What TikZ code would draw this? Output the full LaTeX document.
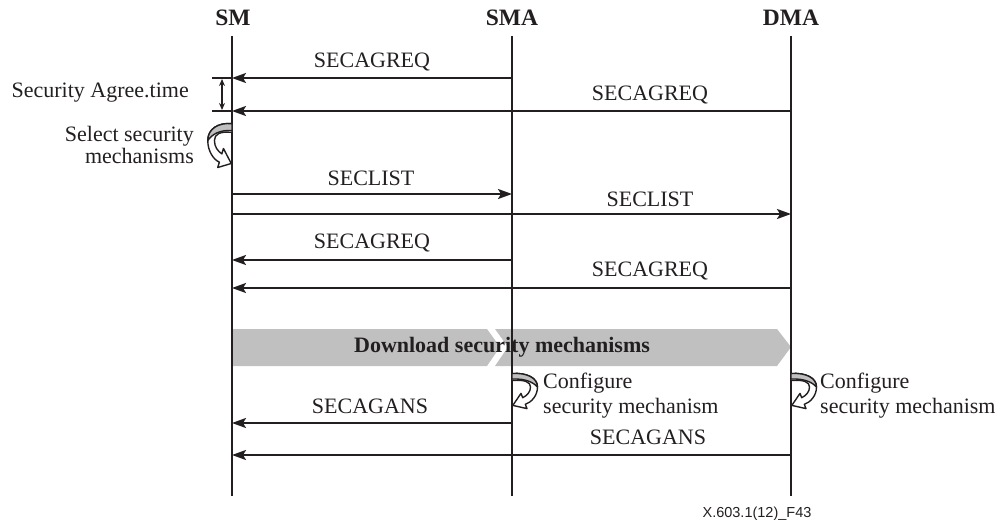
\documentclass[tikz,border=0pt]{standalone}
\usepackage{fontspec}
\setmainfont{Liberation Serif}
\newfontfamily\footfont{Liberation Sans}
\usetikzlibrary{arrows.meta}
\definecolor{bandgray}{RGB}{192,192,192}
\definecolor{ink}{RGB}{35,31,32}
\tikzset{
  lifeline/.style={draw=ink, line width=2pt},
  msg/.style={draw=ink, line width=2pt, -{Stealth[length=14pt,width=10pt,inset=3pt]}},
  lbl/.style={font=\fontsize{22}{24}\selectfont, text=ink, inner sep=0pt},
  head/.style={font=\fontsize{23.5}{24}\selectfont\bfseries, text=ink, inner sep=0pt},
  bandtext/.style={font=\fontsize{22}{24}\selectfont\bfseries, text=ink, inner sep=0pt},
  tick/.style={draw=ink, line width=1.5pt},
  chev/.style={fill=bandgray, draw=none},
  loopicon/.pic={
    \filldraw[fill=white, draw=ink, line width=1.4pt, line join=round]
      (0,0.5) .. controls (15,-0.5) and (25.5,5) .. (25.5,14)
      .. controls (25.5,23) and (19,29.5) .. (13.3,31.3)
      -- (15,35.6) -- (0.8,32.4) -- (9,20.4) -- (10.7,24.7)
      .. controls (15,22.5) and (18.5,19) .. (18.5,14)
      .. controls (18.5,9) and (13,6.5) .. (0,7.5) -- cycle;
    \filldraw[fill=bandgray, draw=ink, line width=1.4pt, line join=round]
      (0,0.5) .. controls (15,-0.5) and (25.5,5) .. (25.5,14)
      .. controls (21,9) and (13,5.5) .. (0,6) -- cycle;
  }
}
\begin{document}
\begin{tikzpicture}[x=1pt,y=-1pt]
\useasboundingbox (0,0) rectangle (1000,524);

% headers
\node[head] (SM)  at (233,18) {SM};
\node[head] (SMA) at (512,18) {SMA};
\node[head] (DMA) at (791,18) {DMA};

% lifeline end points
\coordinate (SMt) at (232,36);  \coordinate (SMb) at (232,496);
\coordinate (SMAt) at (512,36); \coordinate (SMAb) at (512,496);
\coordinate (DMAt) at (791,36); \coordinate (DMAb) at (791,496);

% banner
\fill[chev] (232,329) -- (487,329) -- (500,347) -- (487,366) -- (232,366) -- cycle;
\fill[chev] (495,329) -- (777,329) -- (791,347) -- (777,366) -- (495,366) -- (508,347) -- cycle;
\node[bandtext] (band) at (502,347) {Download security mechanisms};

\draw[lifeline] (SMt) -- (SMb);
\draw[lifeline] (SMAt) -- (SMAb);
\draw[lifeline] (DMAt) -- (DMAb);

% message end points
\foreach \n/\y in {1/78,2/111,3/194,4/214,5/260,6/288,7/423,8/455}{
  \coordinate (sm\n) at (232,\y);
  \coordinate (sma\n) at (512,\y);
  \coordinate (dma\n) at (791,\y);
}

\draw[msg] (sma1) -- (sm1);
\node[lbl] (l1) at (372,62) {SECAGREQ};
\draw[msg] (dma2) -- (sm2);
\node[lbl] (l2) at (650,95) {SECAGREQ};
\draw[msg] (sm3) -- (sma3);
\node[lbl] (l3) at (371,178) {SECLIST};
\draw[msg] (sm4) -- (dma4);
\node[lbl] (l4) at (650,199) {SECLIST};
\draw[msg] (sma5) -- (sm5);
\node[lbl] (l5) at (372,243) {SECAGREQ};
\draw[msg] (dma6) -- (sm6);
\node[lbl] (l6) at (650,271) {SECAGREQ};
\draw[msg] (sma7) -- (sm7);
\node[lbl] (l7) at (370,406) {SECAGANS};
\draw[msg] (dma8) -- (sm8);
\node[lbl] (l8) at (648,437) {SECAGANS};

% security agree time
\coordinate (ta) at (212,78); \coordinate (tb) at (212,111);
\draw[tick] (ta) -- (sm1);
\draw[tick] (tb) -- (sm2);
\coordinate (da) at (222,79); \coordinate (db) at (222,110);
\draw[draw=ink, line width=1.2pt, {Stealth[length=7pt,width=6pt]}-{Stealth[length=7pt,width=6pt]}] (da) -- (db);
\node[lbl, anchor=east] (sat) at (189,93) {Security Agree.time};

% select security mechanisms
\pic[xscale=-0.95, yscale=1.25] at (232,123) {loopicon};
\node[lbl, anchor=east, align=right, font=\fontsize{22}{22}\selectfont] (sel) at (194,145) {Select security\\mechanisms};

% configure
\pic at (512,373) {loopicon};
\node[lbl, anchor=west, align=left, font=\fontsize{22}{25}\selectfont] (cfg1) at (543,396) {Configure\\security mechanism};
\pic at (791,373) {loopicon};
\node[lbl, anchor=west, align=left, font=\fontsize{22}{25}\selectfont] (cfg2) at (820,396) {Configure\\security mechanism};

% footer
\node[font=\footfont\fontsize{14.5}{16}\selectfont, text=ink, inner sep=0pt] (fig) at (757,514) {X.603.1(12)\_F43};
\end{tikzpicture}
\end{document}
